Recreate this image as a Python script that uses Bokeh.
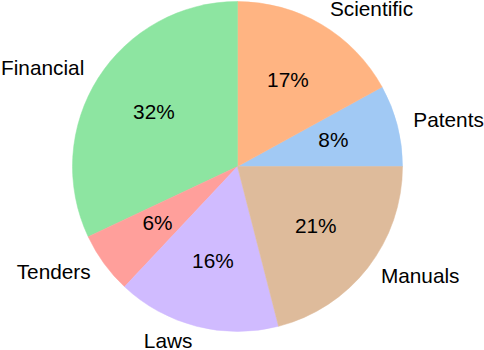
import math
from bokeh.plotting import figure
from bokeh.models import ColumnDataSource, Range1d
from bokeh.core.properties import value
from bokeh.embed import file_html
from bokeh.resources import INLINE

categories = ["Patents", "Scientific", "Financial", "Tenders", "Laws", "Manuals"]
shares = [8, 17, 32, 6, 16, 21]
colors = ["#a1c9f4", "#ffb482", "#8de5a1", "#ff9f9b", "#d0bbff", "#debb9b"]

total = float(sum(shares))
starts, ends, mids = [], [], []
acc = 0.0
for v in shares:
    a0 = acc / total * 2 * math.pi
    acc += v
    a1 = acc / total * 2 * math.pi
    starts.append(a0)
    ends.append(a1)
    mids.append((a0 + a1) / 2)

label_r = 1.1
pct_r = 0.6
lx = [label_r * math.cos(m) for m in mids]
ly = [label_r * math.sin(m) for m in mids]
align = ["left" if x >= 0 else "right" for x in lx]
px = [pct_r * math.cos(m) for m in mids]
py = [pct_r * math.sin(m) for m in mids]
pct = ["%d%%" % round(v / total * 100) for v in shares]

src = ColumnDataSource(dict(cat=categories, start=starts, end=ends, color=colors,
                            lx=lx, ly=ly, align=align, px=px, py=py, pct=pct))

W, H = 484, 350
scale = 165.0
cx, cy = 237.0, 166.0
p = figure(width=W, height=H, output_backend="svg", toolbar_location=None,
           x_range=Range1d((0 - cx) / scale, (W - cx) / scale),
           y_range=Range1d((cy - H) / scale, (cy - 0) / scale),
           min_border=0, min_border_left=0, min_border_right=0,
           min_border_top=0, min_border_bottom=0)
p.axis.visible = False
p.grid.visible = False
p.outline_line_color = None
p.background_fill_color = "white"
p.border_fill_color = "white"

p.wedge(x=0, y=0, radius=1.0, start_angle="start", end_angle="end",
        direction="anticlock", fill_color="color", line_color="color",
        line_width=0.5, source=src)

p.text(x="lx", y="ly", text="cat", text_align="align", text_baseline="middle",
       y_offset=-2,
       text_font=value("Liberation Sans"), text_font_size=value("20.8px"),
       text_color="black", source=src)
p.text(x="px", y="py", text="pct", text_align="center", text_baseline="middle",
       y_offset=-2,
       text_font=value("Liberation Sans"), text_font_size=value("20.8px"),
       text_color="black", source=src)

open("out.html", "w").write(file_html(p, INLINE))
